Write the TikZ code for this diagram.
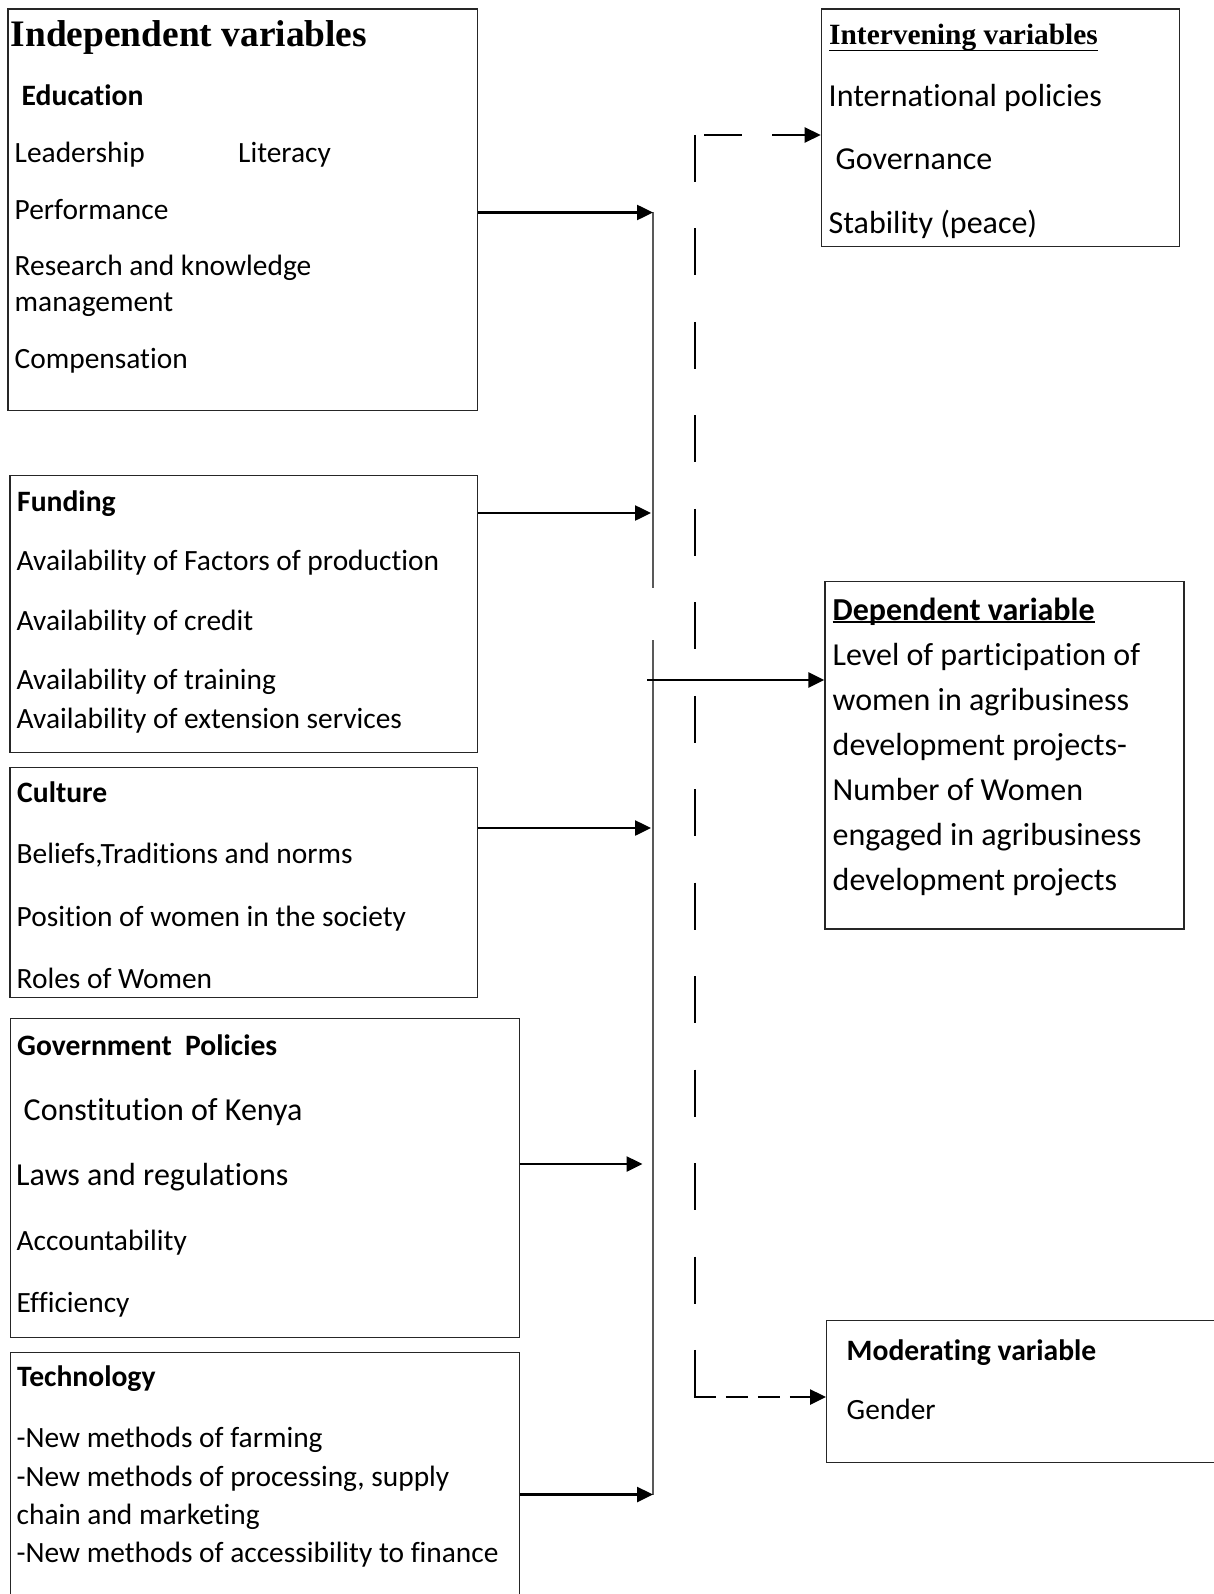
\documentclass[tikz,border=0pt]{standalone}
\usepackage{fontspec}
\setmainfont[Ligatures=NoCommon]{Carlito}
\newfontfamily\timesfont{Liberation Serif}
\usetikzlibrary{arrows.meta}
\newcommand\myul[2]{\setbox0\hbox{#2}\rlap{\rule[-#1]{\wd0}{1.8pt}}\box0}
\newcommand\tkI{t\kern0pt i}
\tikzset{
 tbody/.style={anchor=base west, inner sep=0pt, font=\fontsize{29.4}{34}\selectfont},
 tbold/.style={tbody, font=\fontsize{29.6}{34}\selectfont\bfseries},
 tbig/.style={tbody, font=\fontsize{32}{38}\selectfont},
 tbigbold/.style={tbody, font=\fontsize{32}{38}\selectfont\bfseries},
 thead/.style={tbody, font=\timesfont\fontsize{37.4}{44}\selectfont\bfseries},
 tsub/.style={tbody, font=\timesfont\fontsize{29.4}{34}\selectfont\bfseries},
 box/.style={draw=black!85, line width=1.3pt, rectangle, inner sep=0pt, anchor=north west},
 arr/.style={line width=2.5pt, -{Triangle[length=16pt,width=15pt]}},
 busline/.style={line width=1.5pt, draw=black!65},
 dsh/.style={line width=2.5pt}
}
\begin{document}
\begin{tikzpicture}[x=1pt, y=-1pt]
\useasboundingbox (0,0) rectangle (1214,1594);
\clip (0,0) rectangle (1214,1594);
\fill[white] (0,0) rectangle (1214,1594);

% boxes
\node[box, minimum width=469.4, minimum height=401.7] (edu) at (7.3,8.3) {};
\node[box, minimum width=467.4, minimum height=277.5] (fund) at (9.3,474.5) {};
\node[box, minimum width=467.4, minimum height=230.5] (cult) at (9.3,766.5) {};
\node[box, minimum width=509, minimum height=319] (gov) at (9.5,1018) {};
\node[box, minimum width=509, minimum height=270] (tech) at (9.5,1351.5) {};
\node[box, minimum width=358.3, minimum height=237.7] (interv) at (820.7,8.3) {};
\node[box, minimum width=359, minimum height=347.6] (dep) at (824.3,580.7) {};
\node[box, minimum width=420, minimum height=142] (mod) at (826,1320) {};

% education texts
\node[thead] (e0) at (10.5,47) {Independent variables};
\node[tbold] (e1) at (21.5,106) {Educa\tkI on};
\node[tbody] (e2) at (14.5,162.3) {Leadership};
\node[tbody] (e3) at (238,162.3) {Literacy};
\node[tbody] (e4) at (14.5,219.3) {Performance};
\node[tbody] (e5) at (14.5,276) {Research and knowledge};
\node[tbody] (e6) at (14.5,311.7) {management};
\node[tbody] (e7) at (14.5,368.3) {Compensa\tkI on};

% funding texts
\node[tbold] (f0) at (17,511) {Funding};
\node[tbody] (f1) at (16.5,570) {Availability of Factors of produc\tkI on};
\node[tbody] (f2) at (16.5,630.5) {Availability of credit};
\node[tbody] (f3) at (16.5,689) {Availability of training};
\node[tbody] (f4) at (16.5,728) {Availability of extension services};

% culture texts
\node[tbold] (c0) at (17,802) {Culture};
\node[tbody] (c1) at (16.5,863) {Beliefs,Tradi\tkI ons and norms};
\node[tbody] (c2) at (16.5,926.6) {Posi\tkI on of women in the society};
\node[tbody] (c3) at (16.5,988.6) {Roles of Women};

% government texts
\node[tbold] (g0) at (17,1055) {Government~ Policies};
\node[tbig] (g1) at (23.5,1120.5) {Constitu\tkI on of Kenya};
\node[tbig] (g2) at (16,1185.6) {Laws and regula\tkI ons};
\node[tbody] (g3) at (16.5,1250) {Accountability};
\node[tbody] (g4) at (16.5,1312.5) {Efficiency};

% technology texts
\node[tbold] (h0) at (17,1386.4) {Technology};
\node[tbody] (h1) at (16.5,1447) {-New methods of farming};
\node[tbody] (h2) at (16.5,1486) {-New methods of processing, supply};
\node[tbody] (h3) at (16.5,1524.6) {chain and marke\tkI ng};
\node[tbody] (h4) at (16.5,1562.5) {-New methods of accessibility to finance};

% intervening texts
\node[tsub] (i0) at (829,44.5) {\myul{7pt}{Intervening variables}};
\node[tbig] (i1) at (828.5,106.5) {Interna\tkI onal policies};
\node[tbig] (i2) at (835.5,169.5) {Governance};
\node[tbig] (i3) at (828.5,233.5) {Stability (peace)};

% dependent texts
\node[tbigbold] (d0) at (832.5,620) {\myul{3.2pt}{Dependent variable}};
\node[tbig] (d1) at (832.5,665) {Level of participa\tkI on of};
\node[tbig] (d2) at (832.5,710) {women in agribusiness};
\node[tbig] (d3) at (832.5,755) {development projects-};
\node[tbig] (d4) at (832.5,800) {Number of Women};
\node[tbig] (d5) at (832.5,845) {engaged in agribusiness};
\node[tbig] (d6) at (832.5,890) {development projects};

% moderating texts
\node[tbold] (m0) at (846.5,1360.3) {Modera\tkI ng variable};
\node[tbody] (m1) at (846.5,1419) {Gender};

% solid bus
\coordinate (busA) at (653,212.5);
\coordinate (busB) at (653,588);
\coordinate (busC) at (653,640);
\coordinate (busD) at (653,1494.5);
\draw[busline] (busA) -- (busB);
\draw[busline] (busC) -- (busD);

% arrows from independent boxes
\coordinate (fundIn) at (651,513);
\coordinate (cultIn) at (651,828);
\coordinate (govIn) at (642.5,1164);
\draw[arr] (edu.east |- busA) -- (busA);
\draw[arr] (fund.east |- fundIn) -- (fundIn);
\draw[arr] (cult.east |- cultIn) -- (cultIn);
\draw[arr] (gov.east |- govIn) -- (govIn);
\draw[arr] (tech.east |- busD) -- (busD);

% to dependent
\coordinate (depOut) at (647,680);
\draw[arr] (depOut) -- (dep.west |- depOut);

% dashed connectors
\coordinate (dTop) at (695,135);
\coordinate (dBot) at (695,1397);
\coordinate (dBotL) at (693.75,1397);
\draw[dsh, dash pattern=on 47pt off 46.46pt] (dTop) -- (dBot);
\draw[arr, dash pattern=on 0pt off 9pt on 38pt off 30pt on 400pt] (dTop) -- (interv.west |- dTop);
\draw[arr, dash pattern=on 22pt off 10pt] (dBotL) -- (mod.west |- dBotL);
\end{tikzpicture}
\end{document}
